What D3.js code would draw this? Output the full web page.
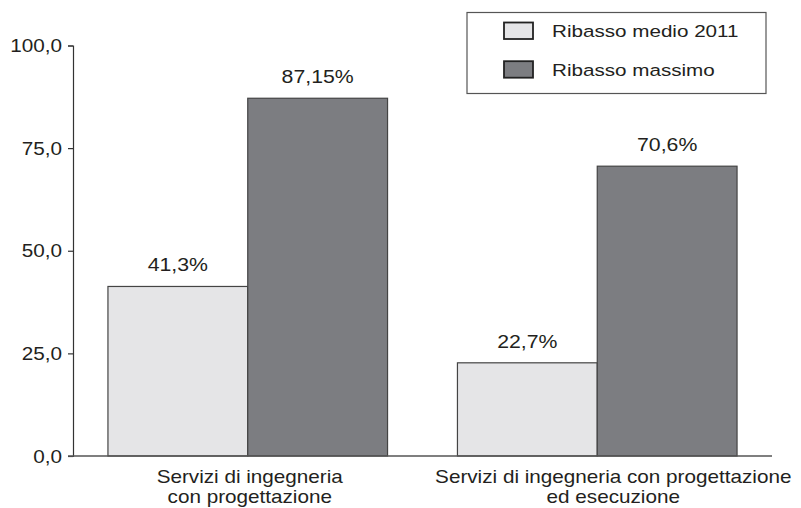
<!DOCTYPE html>
<html><head><meta charset="utf-8">
<script src="https://cdn.jsdelivr.net/npm/d3@7"></script>
<style>
html,body{margin:0;padding:0;background:#fff;}
svg{display:block;font-family:"Liberation Sans",Arial,Helvetica,sans-serif;}
</style></head>
<body>
<svg id="chart" width="801" height="508"></svg>
<script>
const categories = [
  ["Servizi di ingegneria", "con progettazione"],
  ["Servizi di ingegneria con progettazione", "ed esecuzione"]
];
const seriesNames = ["Ribasso medio 2011", "Ribasso massimo"];
const ribassoMedio = [41.3, 22.7];
const ribassoMassimo = [87.15, 70.6];
const valueLabels = [["41,3%", "87,15%"], ["22,7%", "70,6%"]];
const yTicks = [0, 25, 50, 75, 100];
const yTickLabels = ["0,0", "25,0", "50,0", "75,0", "100,0"];
const colors = ["#e5e5e7", "#7c7d81"];

const svg = d3.select("#chart");
const textColor = "#231f20";
const catIds = categories.map((c, i) => i);

const x0 = d3.scaleBand().domain(catIds).range([73, 772]).paddingInner(0.2).paddingOuter(0.1);
const x1 = d3.scaleBand().domain([0, 1]).range([0, x0.bandwidth()]);
const y = d3.scaleLinear().domain([0, 100]).range([456, 45.5]);

function stretchedText(g, x, yy, txt, size, sx, anchor) {
  return g.append("text")
    .attr("transform", `translate(${x},${yy}) scale(${sx},1)`)
    .attr("text-anchor", anchor)
    .attr("font-size", size)
    .attr("fill", textColor)
    .text(txt);
}

// Y axis
const yAxis = d3.axisLeft(y).tickValues(yTicks).tickSize(5).tickFormat("");
const gy = svg.append("g").attr("transform", "translate(73,0)").call(yAxis);
gy.select(".domain").attr("stroke", "#333").attr("stroke-width", 1.2);
gy.selectAll(".tick line").attr("stroke", "#333").attr("stroke-width", 1.2);
yTicks.forEach((t, i) => {
  stretchedText(svg, 62, y(t) + 6.5, yTickLabels[i], 18.5, 1.12, "end");
});

// Bars
const data = [];
catIds.forEach(i => {
  [ribassoMedio[i], ribassoMassimo[i]].forEach((v, s) => data.push({c: i, s, v, label: valueLabels[i][s]}));
});
const bars = svg.append("g");
bars.selectAll("rect").data(data).join("rect")
  .attr("x", d => x0(d.c) + x1(d.s))
  .attr("y", d => y(d.v))
  .attr("width", x1.bandwidth())
  .attr("height", d => y(0) - y(d.v))
  .attr("fill", d => colors[d.s])
  .attr("stroke", "#444")
  .attr("stroke-width", 1.2);

data.forEach(d => {
  stretchedText(svg, x0(d.c) + x1(d.s) + x1.bandwidth() / 2, y(d.v) - 15, d.label, 18.5, 1.15, "middle");
});

// Baseline
svg.append("line")
  .attr("x1", 68).attr("x2", x0.range()[1])
  .attr("y1", y(0)).attr("y2", y(0))
  .attr("stroke", "#555").attr("stroke-width", 1.5);

// Category labels
const catShift = [2, 16];
catIds.forEach(i => {
  const cx = x0(i) + x0.bandwidth() / 2 + catShift[i];
  categories[i].forEach((line, j) => {
    stretchedText(svg, cx, y(0) + 26.5 + j * 20.5, line, 18, 1.15, "middle");
  });
});

// Legend
const lg = svg.append("g");
lg.append("rect").attr("x", 467).attr("y", 12.5).attr("width", 299).attr("height", 81)
  .attr("fill", "#fff").attr("stroke", "#555").attr("stroke-width", 1.2);
seriesNames.forEach((n, i) => {
  const ry = 22.5 + i * 38.7;
  lg.append("rect").attr("x", 504).attr("y", ry).attr("width", 29).attr("height", 16.5)
    .attr("fill", colors[i]).attr("stroke", "#222").attr("stroke-width", 1.8);
  stretchedText(lg, 552, ry + 14.8, n, 17.2, 1.2, "start");
});
</script>
</body></html>
